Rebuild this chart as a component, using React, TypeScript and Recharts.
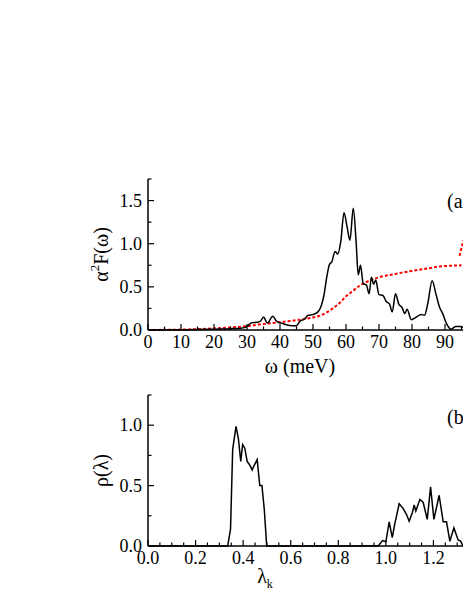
import { Label, Line, LineChart, XAxis, YAxis } from 'recharts';

// panel (a): Eliashberg function and cumulative coupling
const omega = [0, 5, 10, 15, 20, 25, 28, 29.5, 30.5, 31.5, 33, 34, 35, 36.2, 37.8, 39, 40.5, 42, 43.5, 45, 46, 47.5, 48.5, 50, 51.5, 52.5, 53.3, 54.2, 55, 55.7, 56.7, 57.5, 58.4, 59.4, 60.4, 61.2, 62.2, 63.1, 63.7, 64.4, 65.2, 66.2, 67, 67.7, 68.4, 69, 70, 71.2, 72.2, 73.2, 74, 75, 76, 77, 77.8, 78.5, 79.8, 81.3, 82.8, 83.8, 84.8, 86.1, 87.3, 88.3, 89.3, 90.5, 91.8, 93.3, 94.8, 96, 98, 100];
const a2f = [0, 0, 0.003, 0.005, 0.01, 0.015, 0.02, 0.03, 0.06, 0.085, 0.09, 0.1, 0.15, 0.08, 0.16, 0.1, 0.08, 0.06, 0.05, 0.05, 0.1, 0.13, 0.17, 0.18, 0.21, 0.28, 0.4, 0.62, 0.76, 0.79, 0.91, 0.88, 1.02, 1.36, 1.18, 1.04, 1.41, 1.0, 0.64, 0.75, 0.54, 0.52, 0.42, 0.61, 0.53, 0.58, 0.41, 0.4, 0.33, 0.3, 0.21, 0.42, 0.3, 0.26, 0.19, 0.24, 0.12, 0.15, 0.18, 0.17, 0.31, 0.57, 0.41, 0.27, 0.19, 0.07, 0.01, 0.04, 0.04, 0.02, 0.01, 0];
const omegaLam = [0, 5, 10, 15, 20, 25, 30, 35, 40, 46, 50, 52, 54, 56, 58, 60, 62, 64, 67, 70, 75, 80, 85, 88, 92, 95];
const lamCum = [0, 0.002, 0.005, 0.01, 0.018, 0.03, 0.045, 0.07, 0.09, 0.12, 0.145, 0.165, 0.2, 0.25, 0.31, 0.39, 0.45, 0.51, 0.57, 0.61, 0.65, 0.685, 0.715, 0.735, 0.745, 0.75];
const omegaTail = [94.4, 95.6];
const lamTail = [0.86, 1.04];

// panel (b): distribution of coupling
const lamK = [0, 0.335, 0.347, 0.356, 0.37, 0.38, 0.39, 0.398, 0.407, 0.417, 0.428, 0.438, 0.447, 0.459, 0.47, 0.479, 0.489, 0.499, 0.968, 0.986, 1.0, 1.014, 1.027, 1.038, 1.045, 1.056, 1.073, 1.087, 1.098, 1.112, 1.119, 1.126, 1.143, 1.157, 1.174, 1.188, 1.202, 1.224, 1.241, 1.255, 1.269, 1.286, 1.304, 1.314, 1.325, 1.4];
const rho = [0, 0, 0.14, 0.8, 0.99, 0.89, 0.7, 0.84, 0.81, 0.7, 0.67, 0.63, 0.67, 0.715, 0.5, 0.5, 0.3, 0, 0, 0.045, 0.035, 0.2, 0.07, 0.19, 0.25, 0.35, 0.31, 0.26, 0.205, 0.28, 0.34, 0.29, 0.385, 0.36, 0.22, 0.49, 0.22, 0.42, 0.2, 0.2, 0.04, 0.15, 0.05, 0.04, 0, 0];

const xTicksA = Array.from({ length: 21 }, (_, i) => i * 5);
const yTicksA = [0, 0.25, 0.5, 0.75, 1, 1.25, 1.5, 1.75];
const xTicksB = Array.from({ length: 29 }, (_, i) => Math.round(i * 5) / 100);
const yTicksB = [0, 0.25, 0.5, 0.75, 1, 1.25];

const dataA = omega.map((w, i) => ({ w, v: a2f[i] }));
const dataLam = omegaLam.map((w, i) => ({ w, v: lamCum[i] }));
const dataTail = omegaTail.map((w, i) => ({ w, v: lamTail[i] }));
const dataB = lamK.map((l, i) => ({ l, v: rho[i] }));

const FONT = "'Liberation Serif', 'Times New Roman', serif";
const FS = 18;

const isMajor = (v: number, step: number) => Math.abs(v / step - Math.round(v / step)) < 1e-6;

const bottomTick = (step: number, fmt: (v: number) => string) => (props: any) => {
  const { x, y, payload } = props;
  const major = isMajor(payload.value, step);
  return (
    <g>
      <line x1={x} x2={x} y1={y} y2={y - (major ? 6 : 3.5)} stroke="#000" strokeWidth={1.2} />
      {major && (
        <text x={x} y={y + 18} textAnchor="middle" style={{ fontFamily: FONT }} fontSize={FS} fill="#000">
          {fmt(payload.value)}
        </text>
      )}
    </g>
  );
};

const topTick = (step: number) => (props: any) => {
  const { x, y, payload } = props;
  const major = isMajor(payload.value, step);
  return <line x1={x} x2={x} y1={y} y2={y + (major ? 6 : 3.5)} stroke="#000" strokeWidth={1.2} />;
};

const leftTick = (props: any) => {
  const { x, y, payload } = props;
  const major = isMajor(payload.value, 0.5);
  return (
    <g>
      <line x1={x} x2={x + (major ? 6 : 3.5)} y1={y} y2={y} stroke="#000" strokeWidth={1.2} />
      {major && (
        <text x={x - 6} y={y + 6} textAnchor="end" style={{ fontFamily: FONT }} fontSize={FS} fill="#000">
          {payload.value.toFixed(1)}
        </text>
      )}
    </g>
  );
};

const rightTick = (props: any) => {
  const { x, y, payload } = props;
  const major = isMajor(payload.value, 0.5);
  return <line x1={x} x2={x - (major ? 6 : 3.5)} y1={y} y2={y} stroke="#000" strokeWidth={1.2} />;
};

const yTitleA = (props: any) => {
  const vb = props.viewBox;
  const cx = vb.x + vb.width - 47;
  const cy = vb.y + vb.height / 2;
  return (
    <text x={cx} y={cy} transform={`rotate(-90 ${cx} ${cy})`} textAnchor="middle" dominantBaseline="central" style={{ fontFamily: FONT }} fontSize={20} fill="#000">
      <tspan>α</tspan>
      <tspan dy={-7} fontSize={13}>2</tspan>
      <tspan dy={7}>F(ω)</tspan>
    </text>
  );
};

const yTitleB = (props: any) => {
  const vb = props.viewBox;
  const cx = vb.x + vb.width - 47;
  const cy = vb.y + vb.height / 2;
  return (
    <text x={cx} y={cy} transform={`rotate(-90 ${cx} ${cy})`} textAnchor="middle" dominantBaseline="central" style={{ fontFamily: FONT }} fontSize={20} fill="#000">
      ρ(λ)
    </text>
  );
};

const xTitleA = (props: any) => {
  const vb = props.viewBox;
  return (
    <text x={vb.x + 152} y={vb.y + 43} textAnchor="middle" style={{ fontFamily: FONT }} fontSize={20} fill="#000">
      ω (meV)
    </text>
  );
};

const xTitleB = (props: any) => {
  const vb = props.viewBox;
  return (
    <text x={vb.x + 117} y={vb.y + 37} textAnchor="middle" style={{ fontFamily: FONT }} fontSize={20} fill="#000">
      <tspan>λ</tspan>
      <tspan dy={5} fontSize={12}>k</tspan>
    </text>
  );
};

const App = () => {
  return (
    <div style={{ position: 'fixed', left: 0, top: 0, width: 463, height: 599, overflow: 'hidden', background: '#fff' }}>
      <div style={{ position: 'absolute', left: 8, top: 8 }}>
        <LineChart width={480} height={380} data={dataA} margin={{ top: 171, right: 10, left: 80, bottom: 28 }}>
          <XAxis dataKey="w" type="number" domain={[0, 100]} ticks={xTicksA} interval={0} tickSize={0} tickMargin={0} height={30}
            axisLine={{ stroke: '#000', strokeWidth: 1.5 }} tickLine={false} tick={bottomTick(10, (v) => String(v))}>
            <Label content={xTitleA} />
          </XAxis>
          <XAxis xAxisId="top" orientation="top" dataKey="w" type="number" domain={[0, 100]} ticks={xTicksA} interval={0} tickSize={0} tickMargin={0} height={0}
            axisLine={{ stroke: '#000', strokeWidth: 1.5 }} tickLine={false} tick={topTick(10)} />
          <YAxis type="number" domain={[0, 1.75]} ticks={yTicksA} interval={0} width={60} tickSize={0} tickMargin={0}
            axisLine={{ stroke: '#000', strokeWidth: 1.5 }} tickLine={false} tick={leftTick}>
            <Label content={yTitleA} />
          </YAxis>
          <YAxis yAxisId="right" orientation="right" type="number" domain={[0, 1.75]} ticks={yTicksA} interval={0} width={0} tickSize={0} tickMargin={0}
            axisLine={{ stroke: '#000', strokeWidth: 1.5 }} tickLine={false} tick={rightTick} />
          <Line data={dataLam} dataKey="v" type="monotone" stroke="#ff0000" strokeWidth={2} strokeDasharray="3 2" dot={false} isAnimationActive={false} />
          <Line data={dataTail} dataKey="v" type="linear" stroke="#ff0000" strokeWidth={2} strokeDasharray="3 2" dot={false} isAnimationActive={false} />
          <Line data={dataA} dataKey="v" type="monotone" stroke="#000" strokeWidth={1.5} dot={false} isAnimationActive={false} />
        </LineChart>
      </div>
      <div style={{ position: 'absolute', left: 447, top: 191, fontFamily: FONT, fontSize: 20, lineHeight: '20px', whiteSpace: 'nowrap' }}>(a)</div>

      <div style={{ position: 'absolute', left: 8, top: 338 }}>
        <LineChart width={483} height={261} data={dataB} margin={{ top: 57, right: 10, left: 80, bottom: 23 }}>
          <XAxis dataKey="l" type="number" domain={[0, 1.4]} ticks={xTicksB} interval={0} tickSize={0} tickMargin={0} height={30}
            axisLine={{ stroke: '#000', strokeWidth: 1.5 }} tickLine={false} tick={bottomTick(0.2, (v) => v.toFixed(1))}>
            <Label content={xTitleB} />
          </XAxis>
          <XAxis xAxisId="top" orientation="top" dataKey="l" type="number" domain={[0, 1.4]} ticks={xTicksB} interval={0} tickSize={0} tickMargin={0} height={0}
            axisLine={{ stroke: '#000', strokeWidth: 1.5 }} tickLine={false} tick={topTick(0.2)} />
          <YAxis type="number" domain={[0, 1.25]} ticks={yTicksB} interval={0} width={60} tickSize={0} tickMargin={0}
            axisLine={{ stroke: '#000', strokeWidth: 1.5 }} tickLine={false} tick={leftTick}>
            <Label content={yTitleB} />
          </YAxis>
          <YAxis yAxisId="right" orientation="right" type="number" domain={[0, 1.25]} ticks={yTicksB} interval={0} width={0} tickSize={0} tickMargin={0}
            axisLine={{ stroke: '#000', strokeWidth: 1.5 }} tickLine={false} tick={rightTick} />
          <Line dataKey="v" type="linear" stroke="#000" strokeWidth={1.5} dot={false} isAnimationActive={false} />
        </LineChart>
      </div>
      <div style={{ position: 'absolute', left: 447, top: 407, fontFamily: FONT, fontSize: 20, lineHeight: '20px', whiteSpace: 'nowrap' }}>(b)</div>
    </div>
  );
};

export default App;
